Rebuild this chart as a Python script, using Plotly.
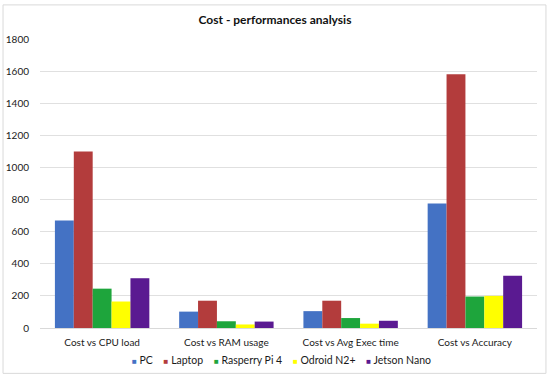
import plotly.graph_objects as go

categories = ["Cost vs CPU load", "Cost vs RAM usage", "Cost vs Avg Exec time", "Cost vs Accuracy"]
pc = [670, 102, 105, 775]
laptop = [1100, 170, 170, 1580]
rpi4 = [245, 42, 62, 196]
odroid = [165, 22, 27, 200]
jetson = [310, 40, 45, 325]

series = [
    ("PC", pc, "#4472C4"),
    ("Laptop", laptop, "#B33C3C"),
    ("Rasperry Pi 4", rpi4, "#1EA53C"),
    ("Odroid N2+", odroid, "#FFFF00"),
    ("Jetson Nano", jetson, "#5A1A91"),
]

FONT = "Lato, Calibri, Carlito, sans-serif"

fig = go.Figure()
for name, vals, col in series:
    fig.add_trace(go.Bar(x=categories, y=vals, name=name, marker_color=col,
                         marker_line_width=0, showlegend=False))

fig.update_layout(
    width=550, height=379,
    margin=dict(l=40, r=13, t=39, b=51, autoexpand=False),
    paper_bgcolor="white", plot_bgcolor="white",
    font=dict(family=FONT, size=10, color="#1a1a1a"),
    title=dict(text="<b>Cost - performances analysis</b>", x=0.5, xanchor="center",
               xref="container", y=1 - 20 / 379, yref="container", yanchor="middle",
               font=dict(family=FONT, size=12, color="#111111")),
    barmode="group", bargap=0.24, bargroupgap=0,
    showlegend=False,
)

fig.update_yaxes(range=[0, 1800], dtick=200, showgrid=True, gridcolor="#E0E0E0",
                 gridwidth=1, zeroline=False, showline=False, ticks="",
                 ticklabelstandoff=10, automargin=False)
fig.update_xaxes(showline=True, linecolor="#D9D9D9", linewidth=1, ticks="",
                 showgrid=False, ticklabelstandoff=5, automargin=False)

# Compact legend as text
legend_html = "    ".join(
    f"<span style='color:{col};font-size:8px'>■</span> {name}" for name, _, col in series
)
fig.add_annotation(text=legend_html, xref="paper", yref="paper",
                   x=(281 - 40) / 497, xanchor="center", y=(327.7 - 360) / 288.7, yanchor="middle",
                   showarrow=False, font=dict(family=FONT, size=10.5, color="#1a1a1a"))

fig.add_shape(type="rect", xref="paper", yref="paper",
              x0=-0.0744, x1=1.018, y0=-0.157, y1=1.118,
              line=dict(color="#D9D9D9", width=1), fillcolor="rgba(0,0,0,0)", layer="below")

fig.write_html("out.html", config={"displayModeBar": False},
               post_script="document.body.style.margin='0';document.body.style.padding='0';")
